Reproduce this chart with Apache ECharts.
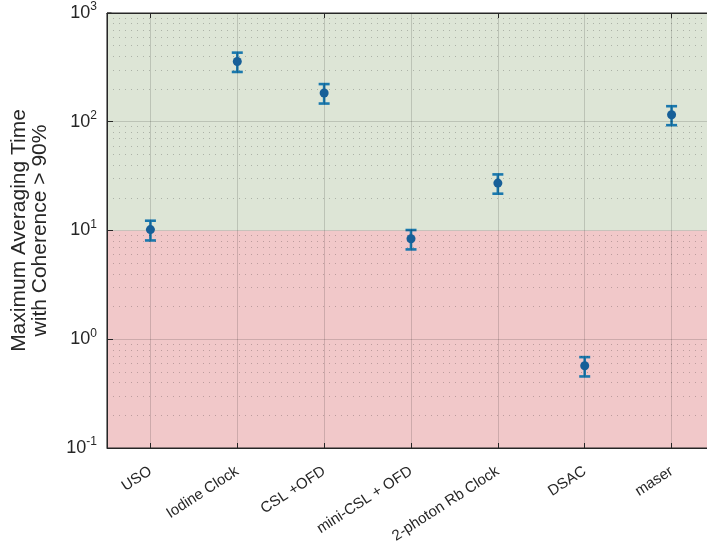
<!DOCTYPE html>
<html>
<head>
<meta charset="utf-8">
<script src="https://cdn.jsdelivr.net/npm/echarts@6/dist/echarts.min.js"></script>
<style>html,body{margin:0;padding:0;background:#fff;overflow:hidden}#c{width:716px;height:552px}</style>
</head>
<body>
<div id="c"></div>
<script>
const categories = ['USO', 'Iodine Clock', 'CSL +OFD', 'mini-CSL + OFD', '2-photon Rb Clock', 'DSAC', 'maser'];
const centers = [10.2, 358, 184, 8.4, 27.3, 0.57, 116];
const lower   = [8.1, 287, 147, 6.7, 21.8, 0.455, 93];
const upper   = [12.3, 432, 222, 10.1, 32.8, 0.685, 139];
const majorTicks = [0.1, 1, 10, 100, 1000];
const threshold = 10;

const minorVals = [];
for (let d = 0; d < majorTicks.length - 1; d++) {
  for (let k = 2; k <= 9; k++) minorVals.push(+(majorTicks[d] * k).toPrecision(3));
}

const FONT = 'Liberation Sans';
const TXT = '#262626';
const SPINE = '#262626';

const chart = echarts.init(document.getElementById('c'));
const gridLineColor = 'rgba(0,0,0,0.15)';

const option = {
  animation: false,
  grid: { left: 107, top: 13, right: 1, bottom: 104, containLabel: false,
          show: true, z: 50, backgroundColor: 'transparent', borderColor: SPINE, borderWidth: 1 },
  xAxis: [{
    type: 'category',
    data: categories,
    boundaryGap: true,
    z: 10,
    axisLine: { show: true, onZero: false, lineStyle: { color: SPINE, width: 1 } },
    axisTick: { show: true, inside: true, alignWithLabel: true, length: 5, lineStyle: { color: SPINE } },
    axisLabel: { rotate: 33, fontFamily: FONT, fontSize: 15, color: TXT, margin: 22, interval: 0 },
    splitLine: { show: false }
  }, {
    type: 'category',
    data: categories,
    position: 'top',
    boundaryGap: true,
    z: 10,
    axisLine: { show: true, onZero: false, lineStyle: { color: SPINE, width: 1 } },
    axisTick: { show: true, inside: true, alignWithLabel: true, length: 5, lineStyle: { color: SPINE } },
    axisLabel: { show: false },
    splitLine: { show: false }
  }],
  yAxis: {
    type: 'log',
    logBase: 10,
    min: 0.1,
    max: 1000,
    z: 10,
    name: 'Maximum Averaging Time\nwith Coherence > 90%',
    nameLocation: 'middle',
    nameGap: 56,
    nameTextStyle: { fontFamily: FONT, fontSize: 21, color: TXT, lineHeight: 21 },
    axisLine: { show: true, onZero: false, lineStyle: { color: SPINE, width: 1 } },
    axisTick: { show: true, inside: true, length: 6, lineStyle: { color: SPINE } },
    splitLine: { show: false },
    axisLabel: {
      margin: 10,
      formatter: function (v) {
        const e = Math.round(Math.log10(v));
        return '{b|10}{s|' + e + '}';
      },
      rich: {
        b: { fontFamily: FONT, fontSize: 18, color: TXT },
        s: { fontFamily: FONT, fontSize: 12, color: TXT, padding: [0, 0, 12, 0] }
      }
    }
  },
  series: [
    {
      type: 'line',
      z: 1,
      data: [],
      silent: true,
      markArea: {
        silent: true,
        data: [
          [{ yAxis: majorTicks[0], itemStyle: { color: '#f1c8c9' } }, { yAxis: threshold }],
          [{ yAxis: threshold, itemStyle: { color: '#dde5d6' } }, { yAxis: majorTicks[majorTicks.length - 1] }]
        ]
      }
    },
    {
      type: 'line',
      z: 2,
      data: [],
      silent: true,
      markLine: {
        silent: true,
        symbol: 'none',
        label: { show: false },
        animation: false,
        data: [].concat(
          minorVals.map(v => ({ yAxis: v, lineStyle: { color: 'rgba(0,0,0,0.22)', type: [1, 5], width: 1 } })),
          majorTicks.slice(1, -1).map(v => ({ yAxis: v, lineStyle: { color: gridLineColor, type: 'solid', width: 1 } })),
          categories.map(c => ({ xAxis: c, lineStyle: { color: gridLineColor, type: 'solid', width: 1 } }))
        )
      }
    },
    {
      type: 'custom',
      z: 4,
      silent: true,
      data: categories.map((c, i) => [i, lower[i], upper[i]]),
      encode: { x: 0, y: [1, 2] },
      renderItem: function (params, api) {
        const i = api.value(0);
        const lo = api.coord([i, api.value(1)]);
        const hi = api.coord([i, api.value(2)]);
        const w = 5.5;
        const st = { stroke: '#1a78ad', lineWidth: 2.6 };
        return {
          type: 'group',
          children: [
            { type: 'line', shape: { x1: lo[0], y1: lo[1], x2: hi[0], y2: hi[1] }, style: st },
            { type: 'line', shape: { x1: lo[0] - w, y1: lo[1], x2: lo[0] + w, y2: lo[1] }, style: st },
            { type: 'line', shape: { x1: hi[0] - w, y1: hi[1], x2: hi[0] + w, y2: hi[1] }, style: st }
          ]
        };
      }
    },
    {
      type: 'scatter',
      z: 5,
      data: centers.map((v, i) => [i, v]),
      symbol: 'circle',
      symbolSize: 9,
      itemStyle: { color: '#175f98', opacity: 1 }
    }
  ]
};
chart.setOption(option);

// left spine minor/major ticks via graphic, positioned through the axes' own conversion
const xa = chart.convertToPixel({ xAxisIndex: 0 }, 0);
const xb = chart.convertToPixel({ xAxisIndex: 0 }, 1);
const x0 = Math.round(xa - (xb - xa) / 2) + 0.5;
const yTop = chart.convertToPixel({ yAxisIndex: 0 }, majorTicks[majorTicks.length - 1]);
const yBot = chart.convertToPixel({ yAxisIndex: 0 }, majorTicks[0]);
const els = minorVals.concat(majorTicks).map(v => {
  const y = chart.convertToPixel({ yAxisIndex: 0 }, v);
  return { type: 'line', silent: true, shape: { x1: x0, y1: y, x2: x0 + 4, y2: y }, style: { stroke: SPINE, lineWidth: 1 } };
});
els.push({ type: 'line', silent: true, shape: { x1: x0, y1: yTop, x2: x0, y2: yBot }, style: { stroke: SPINE, lineWidth: 1.2 } });
chart.setOption({ graphic: { elements: [{ type: 'group', z: 100, children: els }] } });
</script>
</body>
</html>
